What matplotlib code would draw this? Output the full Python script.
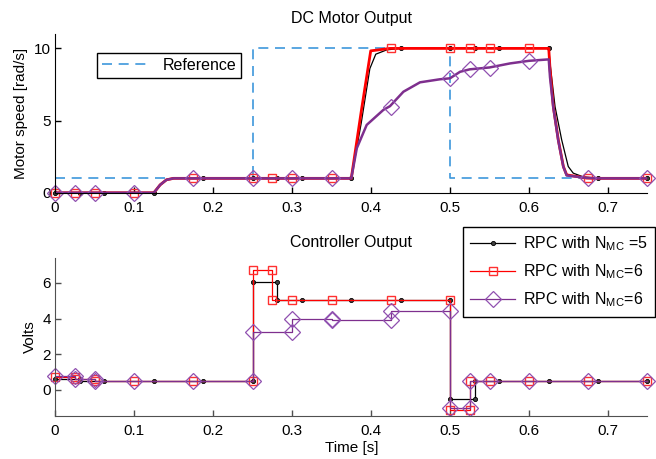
import numpy as np
import matplotlib
matplotlib.use("Agg")
import matplotlib.pyplot as plt
from matplotlib.lines import Line2D

plt.rcParams['font.family'] = 'Liberation Sans'
plt.rcParams['mathtext.fontset'] = 'custom'
plt.rcParams['mathtext.rm'] = 'Liberation Sans'
plt.rcParams['font.size'] = 11

# --- reference speed (step profile)
t_ref = [0, 0.25, 0.25, 0.5, 0.5, 0.75]
w_ref = [1, 1, 10, 10, 1, 1]

# --- motor speed, simulated curves
t_w5 = [0, 0.125, 0.133, 0.141, 0.15, 0.375, 0.3875, 0.3985, 0.406, 0.42, 0.4375,
        0.625, 0.627, 0.633, 0.6414, 0.6497, 0.656, 0.6687, 0.6875, 0.75]
w_w5 = [0, 0, 0.55, 0.9, 1.0, 1.0, 4.8, 8.6, 9.6, 9.9, 10,
        10, 8.8, 5.96, 3.66, 1.82, 1.36, 1.1, 1.0, 1.0]

t_w6 = [0, 0.125, 0.133, 0.141, 0.15, 0.375, 0.3875, 0.3996, 0.424,
        0.625, 0.6266, 0.6308, 0.6371, 0.6435, 0.6477, 0.673, 0.6875, 0.75]
w_w6 = [0, 0, 0.55, 0.9, 1.0, 1.0, 5.6, 9.83, 10,
        10, 8.6, 5.96, 3.66, 1.82, 1.24, 1.02, 1.0, 1.0]

t_w6b = [0, 0.125, 0.133, 0.141, 0.15, 0.375, 0.382, 0.3945, 0.4156, 0.424, 0.441,
         0.462, 0.487, 0.5, 0.5127, 0.525, 0.55, 0.576, 0.6, 0.625,
         0.6266, 0.6308, 0.6371, 0.6435, 0.6477, 0.673, 0.6875, 0.75]
w_w6b = [0, 0, 0.55, 0.9, 1.0, 1.0, 3.09, 4.7, 5.74, 6.0, 7.0,
         7.65, 7.86, 7.93, 8.38, 8.55, 8.68, 8.96, 9.14, 9.24,
         8.0, 5.9, 3.6, 1.8, 1.2, 1.03, 1.0, 1.0]

# --- motor speed at logged samples
ts_5 = [0, 0.03125, 0.0625, 0.125, 0.1875, 0.25, 0.28125, 0.3125, 0.375,
        0.4375, 0.5, 0.53125, 0.5625, 0.625, 0.6875, 0.75]
ws_5 = [0, 0, 0, 0, 1, 1, 1, 1, 1, 10, 10, 10, 10, 10, 1, 1]

ts_6 = [0, 0.025, 0.05, 0.1, 0.175, 0.25, 0.275, 0.3, 0.35, 0.425, 0.5,
        0.525, 0.55, 0.6, 0.675, 0.75]
ws_6 = [0, 0, 0, 0, 1, 1, 1, 1, 1, 10, 10, 10, 10, 10, 1.02, 1]

ts_6b = [0, 0.025, 0.05, 0.1, 0.175, 0.25, 0.3, 0.35, 0.425, 0.5, 0.525,
         0.55, 0.6, 0.675, 0.75]
ws_6b = [0, 0, 0, 0, 1, 1, 1, 1, 5.96, 7.93, 8.55, 8.66, 9.14, 1.02, 1]

# --- controller output (zero order hold, both sides of each jump logged)
tu_5 = [0, 0.03125, 0.03125, 0.0625, 0.125, 0.1875, 0.25, 0.25, 0.28125, 0.28125,
        0.3125, 0.375, 0.4375, 0.5, 0.5, 0.53125, 0.53125, 0.5625, 0.625, 0.6875, 0.75]
u_5 = [0.63, 0.63, 0.5, 0.5, 0.5, 0.5, 0.5, 6.05, 6.05, 5.05,
       5.05, 5.05, 5.05, 5.05, -0.48, -0.48, 0.5, 0.5, 0.5, 0.5, 0.5]

tu_6 = [0, 0.025, 0.025, 0.05, 0.05, 0.1, 0.175, 0.25, 0.25, 0.275, 0.275,
        0.3, 0.35, 0.425, 0.5, 0.5, 0.525, 0.525, 0.55, 0.6, 0.675, 0.75]
u_6 = [0.7, 0.7, 0.62, 0.62, 0.5, 0.5, 0.5, 0.5, 6.75, 6.75, 5.05,
       5.05, 5.05, 5.05, 5.05, -1.1, -1.1, 0.5, 0.5, 0.5, 0.5, 0.5]

tu_6b = [0, 0.025, 0.025, 0.05, 0.05, 0.1, 0.175, 0.25, 0.25, 0.3, 0.3, 0.35, 0.35,
         0.425, 0.425, 0.5, 0.5, 0.525, 0.525, 0.55, 0.6, 0.675, 0.75]
u_6b = [0.78, 0.78, 0.6, 0.6, 0.5, 0.5, 0.5, 0.5, 3.25, 3.25, 4.0, 4.0, 3.9,
        3.9, 4.4, 4.4, -1.0, -1.0, 0.5, 0.5, 0.5, 0.5, 0.5]

x_ticks = [0, 0.1, 0.2, 0.3, 0.4, 0.5, 0.6, 0.7]
x_labels = ['0', '0.1', '0.2', '0.3', '0.4', '0.5', '0.6', '0.7']
labels = [r'RPC with N$_\mathregular{MC}$ =5',
          r'RPC with N$_\mathregular{MC}$=6',
          r'RPC with N$_\mathregular{MC}$=6']

c_ref = '#3d97dc'
c_blk = 'black'
c_red = '#ff0000'
c_pur = '#7e2f8e'
sty_5 = dict(marker='o', ms=3, mfc='#404040', mec='black', mew=0.6)
sty_6 = dict(marker='s', ms=6, mfc='none', mec='#ff3030', mew=1.0)
sty_6b = dict(marker='D', ms=8, mfc='none', mec='#9050b0', mew=0.9)


def habille(ax, spine_col):
    for s in ['top', 'right']:
        ax.spines[s].set_visible(False)
    for s in ['left', 'bottom']:
        ax.spines[s].set_color(spine_col)
    ax.tick_params(direction='in', length=4, width=1, color=spine_col, labelsize=11)
    ax.tick_params(axis='x', pad=6)
    ax.tick_params(axis='y', pad=3)
    ax.set_xlim(0, 0.75)
    ax.set_xticks(x_ticks)
    ax.set_xticklabels(x_labels)


fig = plt.figure(figsize=(6.56, 4.59), dpi=100)

# DC motor speed
ax1 = fig.add_axes([0.084, 0.580, 0.903, 0.346])
ref, = ax1.plot(t_ref, w_ref, color=c_ref, lw=1.2, dashes=[6, 4])
ax1.plot(t_w5, w_w5, color=c_blk, lw=0.9)
ax1.plot(ts_5, ws_5, ls='none', clip_on=False, **sty_5)
ax1.plot(t_w6, w_w6, color=c_red, lw=2.0)
ax1.plot(ts_6, ws_6, ls='none', clip_on=False, **sty_6)
ax1.plot(t_w6b, w_w6b, color=c_pur, lw=1.8)
ax1.plot(ts_6b, ws_6b, ls='none', clip_on=False, **sty_6b)
habille(ax1, 'black')
ax1.set_ylim(0, 11)
ax1.set_yticks([0, 5, 10])
ax1.set_ylabel("Motor speed [rad/s]", fontsize=11)
ax1.set_title("DC Motor Output", fontsize=11.5, pad=8)
ax1.legend([ref], ["Reference"], loc='upper left', bbox_to_anchor=(0.071, 0.88),
           borderaxespad=0, fancybox=False, edgecolor='black', framealpha=1,
           handlelength=3.0, fontsize=11.5, borderpad=0.3)

# controller output
ax2 = fig.add_axes([0.084, 0.094, 0.903, 0.344])
ax2.plot(tu_5, u_5, color=c_blk, lw=0.9, clip_on=False, **sty_5)
ax2.plot(tu_6, u_6, color=c_red, lw=0.9, clip_on=False, **sty_6)
ax2.plot(tu_6b, u_6b, color=c_pur, lw=0.9, clip_on=False, **sty_6b)
habille(ax2, '#505050')
ax2.set_ylim(-1.45, 7.4)
ax2.set_yticks([0, 2, 4, 6])
ax2.set_ylabel("Volts", fontsize=11)
ax2.set_xlabel("Time [s]", fontsize=11, labelpad=2)
ax2.set_title("Controller Output", fontsize=11.5, pad=8)

handles = [Line2D([], [], color=c_blk, lw=0.9, **sty_5),
           Line2D([], [], color=c_red, lw=0.9, **sty_6),
           Line2D([], [], color=c_pur, lw=0.9, **sty_6b)]
fig.legend(handles, labels, loc='upper right', bbox_to_anchor=(0.9985, 0.5054),
           borderaxespad=0, fancybox=False, edgecolor='black', framealpha=1,
           handlelength=2.8, numpoints=1, labelspacing=0.6, fontsize=11.5,
           borderpad=0.45, handletextpad=0.5)

plt.savefig("out.png", dpi=100)
